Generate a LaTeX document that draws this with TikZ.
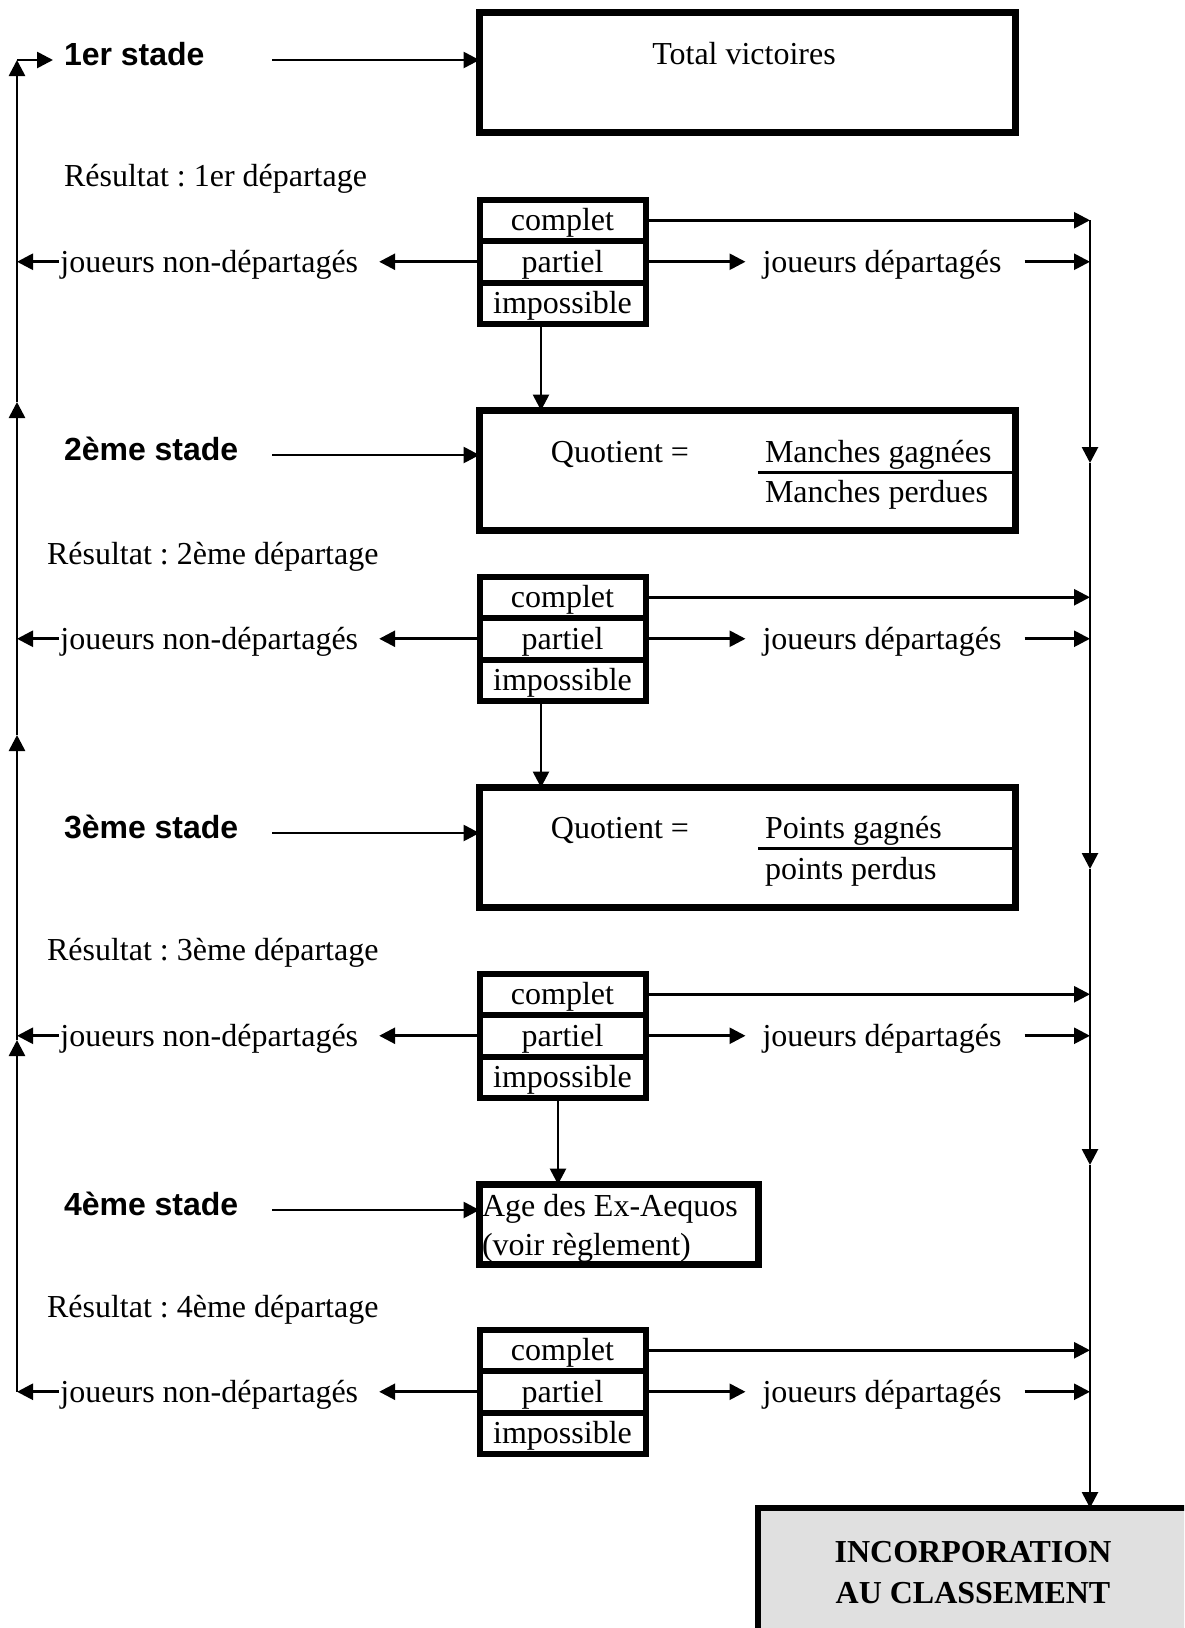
\documentclass[tikz,border=0pt]{standalone}
\usepackage{fontspec}
\setmainfont{Liberation Serif}
\setsansfont{Liberation Sans}
\usetikzlibrary{arrows.meta}
\frenchspacing
\begin{document}
\begin{tikzpicture}[x=0.5pt,y=-0.5pt,
  every node/.style={font=\fontsize{16}{19}\selectfont\frenchspacing, inner sep=0pt, outer sep=0pt},
  bigbox/.style={draw, line width=3.2pt, minimum width=268pt, minimum height=60pt},
  agebox/.style={draw, line width=3.2pt, minimum width=139.5pt, minimum height=40pt},
  rowbox/.style={draw, line width=3pt, minimum width=83pt, minimum height=20.75pt, text depth=0.5pt},
  incbox/.style={draw, line width=3.2pt, fill=black!12, anchor=north west, minimum width=250pt, minimum height=100pt},
  arr/.style={line width=1.35pt, -{Triangle[length=8pt,width=8pt]}},
  rule/.style={line width=1.5pt},
  stagelbl/.style={font=\sffamily\bfseries\fontsize{16}{19}\selectfont, anchor=base west},
  txt/.style={anchor=base west},
  sidetxt/.style={text depth=0pt},
  inctxt/.style={font=\bfseries\fontsize{16}{19}\selectfont, anchor=base}]
\useasboundingbox (0,0) rectangle (1184,1628);
\clip (0,0) rectangle (1184,1628);

% ---------- big boxes ----------
\node[bigbox] (b1) at (747.5,72.5) {};
\node (tv) at (744,54) {Total victoires};
\node[bigbox] (b2) at (747.5,470.5) {};
\node[bigbox] (b3) at (747.5,847.5) {};
\node[agebox] (b4) at (619,1224.5) {};
\node[incbox] (inc) at (758,1508) {};

% quotient texts
\node[anchor=base] (q2) at (620,462) {Quotient =};
\node[txt] (mg) at (765,462) {Manches gagnées};
\node[txt] (mp) at (765,502) {Manches perdues};
\coordinate (r2a) at (758,472);
\draw[rule] (r2a) -- (r2a -| b2.east);
\node[anchor=base] (q3) at (620,838) {Quotient =};
\node[txt] (pg) at (765,838) {Points gagnés};
\node[txt] (pp) at (765,879) {points perdus};
\coordinate (r3a) at (758,848);
\draw[rule] (r3a) -- (r3a -| b3.east);
\node[txt] (age1) at (482,1216) {Age des Ex-Aequos};
\node[txt] (age2) at (482,1255) {(voir règlement)};
\node[inctxt] (inc1) at (973,1562) {INCORPORATION};
\node[inctxt] (inc2) at (973,1603) {AU CLASSEMENT};

% ---------- stage labels ----------
\node[stagelbl] (s1) at (64,65) {1er stade};
\node[stagelbl] (s2) at (64,460) {2ème stade};
\node[stagelbl] (s3) at (64,838) {3ème stade};
\node[stagelbl] (s4) at (64,1215) {4ème stade};
\coordinate (a1) at (272,60);
\coordinate (a2) at (272,455);
\coordinate (a3) at (272,833);
\coordinate (a4) at (272,1210);
\draw[arr] (a1) -- (a1 -| b1.west);
\draw[arr] (a2) -- (a2 -| b2.west);
\draw[arr] (a3) -- (a3 -| b3.west);
\draw[arr] (a4) -- (a4 -| b4.west);

\node[txt] (res1) at (64,186) {Résultat : 1er départage};
\node[txt] (res2) at (47,564) {Résultat : 2ème départage};
\node[txt] (res3) at (47,960) {Résultat : 3ème départage};
\node[txt] (res4) at (47,1317) {Résultat : 4ème départage};

% ---------- result boxes ----------
\foreach \s/\T in {1/197,2/574,3/971,4/1327}{
  \node[rowbox] (c\s) at (562.5,\T+23.25) {complet};
  \node[rowbox] (p\s) at (562.5,\T+64.75) {partiel};
  \node[rowbox] (i\s) at (562.5,\T+106.25) {impossible};
}

% vertical lines coordinates
\coordinate (L0) at (17,60);
\coordinate (L1) at (17,402);
\coordinate (L2) at (17,735);
\coordinate (L3) at (17,1040);
\coordinate (Ls) at (53,60);
\coordinate (R0) at (1090,220);
\coordinate (R1) at (1090,463);
\coordinate (R2) at (1090,869);
\coordinate (R3) at (1090,1165);

\foreach \s in {1,2,3,4}{
  \node[sidetxt, anchor=west] (jn\s) at ([xshift=-209.5pt]p\s.west) {joueurs non-départagés};
  \node[sidetxt, anchor=west] (jd\s) at ([xshift=58.5pt]p\s.east) {joueurs départagés};
  \draw[arr] (p\s.west) -- ([xshift=10.5pt]jn\s.east);
  \draw[arr] ([xshift=-1pt]jn\s.west) -- (L0 |- jn\s.west);
  \draw[arr] (p\s.east) -- ([xshift=-8.5pt]jd\s.west);
  \draw[arr] ([xshift=11.5pt]jd\s.east) -- (R0 |- jd\s.east);
  \draw[arr] (c\s.east) -- (R0 |- c\s.east);
}

% down arrows from impossible
\draw[arr] ([xshift=-10.75pt]i1.south) -- ([xshift=-10.75pt]i1.south |- b2.north);
\draw[arr] ([xshift=-10.75pt]i2.south) -- ([xshift=-10.75pt]i2.south |- b3.north);
\draw[arr] ([xshift=-2.25pt]i3.south) -- ([xshift=-2.25pt]i3.south |- b4.north);

% left return line
\draw[arr] (L0 |- jn4.west) -- (L3);
\draw[arr] (L3) -- (L2);
\draw[arr] (L2) -- (L1);
\draw[arr] (L1) -- (L0);
\draw[arr] (L0) -- (Ls);

% right collecting line
\draw[arr] (R0) -- (R1);
\draw[arr] (R1) -- (R2);
\draw[arr] (R2) -- (R3);
\draw[arr] (R3) -- (R3 |- inc.north);
\end{tikzpicture}
\end{document}
